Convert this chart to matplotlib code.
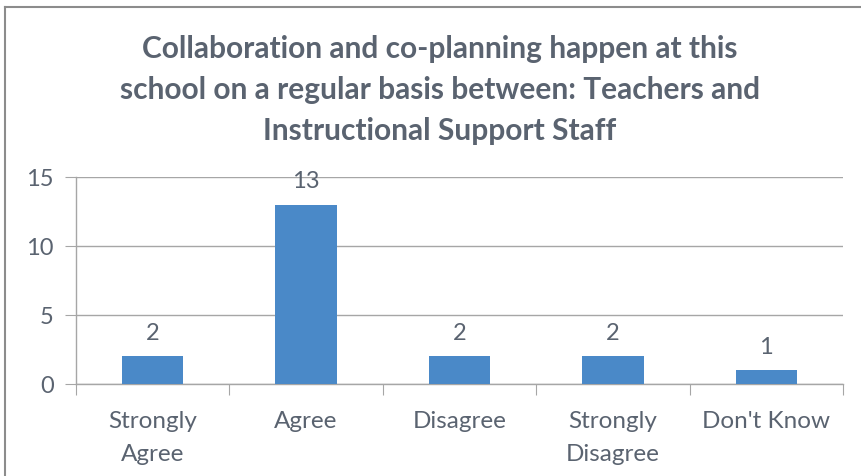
import matplotlib.pyplot as plt
from matplotlib.lines import Line2D

categories = ['Strongly\nAgree', 'Agree', 'Disagree', 'Strongly\nDisagree', "Don't Know"]
counts = [2, 13, 2, 2, 1]
yticks = [0, 5, 10, 15]

title = ('Collaboration and co-planning happen at this\n'
         'school on a regular basis between: Teachers and\n'
         'Instructional Support Staff')

text_col = '#5a6370'
grid_col = '#a6a6a6'
bar_col = '#4a89c8'

plt.rcParams['font.family'] = ['Lato', 'DejaVu Sans']

fig = plt.figure(figsize=(8.62, 4.77), dpi=100)
ax = fig.add_axes([76 / 862, 1 - 385 / 477, (843 - 76) / 862, (385 - 178) / 477])

x = list(range(len(categories)))
bars = ax.bar(x, counts, width=0.4, color=bar_col, zorder=3)
for b, v in zip(bars, counts):
    ax.text(b.get_x() + b.get_width() / 2, v + 0.95, str(v), ha='center', va='bottom',
            fontsize=17, color=text_col)

ax.set_xlim(-0.5, len(categories) - 0.5)
ax.set_ylim(0, 15)
ax.set_yticks(yticks)
ax.tick_params(axis='y', length=8, color=grid_col, labelsize=17, labelcolor=text_col, pad=8)
ax.yaxis.grid(True, color=grid_col, linewidth=1, zorder=0)

ax.set_xticks([i - 0.5 for i in range(len(categories) + 1)], minor=False)
ax.set_xticklabels([])
ax.set_xticks(x, minor=True)
ax.set_xticklabels(categories, minor=True, fontsize=17.5, color=text_col, linespacing=1.7)
ax.tick_params(axis='x', which='major', length=8, color=grid_col)
ax.tick_params(axis='x', which='minor', length=0, pad=19)

for s in ['top', 'right']:
    ax.spines[s].set_visible(False)
for s in ['left', 'bottom']:
    ax.spines[s].set_color(grid_col)
    ax.spines[s].set_linewidth(1)

fig.text(440 / 862, 1 - 90 / 477, title, ha='center', va='center', fontsize=21.5,
         fontweight='bold', color=text_col, linespacing=1.55)

# outer chart frame
fig.add_artist(Line2D([5 / 862, 5 / 862], [0, 1 - 8 / 477], color='#8c8c8c', lw=1.5))
fig.add_artist(Line2D([5 / 862, 1], [1 - 8 / 477, 1 - 8 / 477], color='#8c8c8c', lw=1.5))

fig.savefig('out.png', dpi=100)
